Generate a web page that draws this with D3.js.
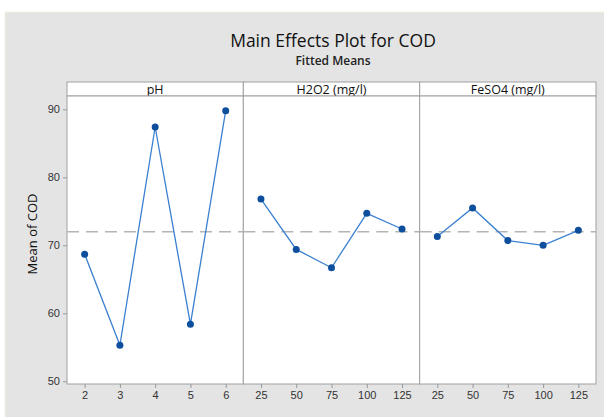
<!DOCTYPE html>
<html>
<head>
<meta charset="utf-8">
<script src="https://cdn.jsdelivr.net/npm/d3@7"></script>
<style>
  body { margin: 0; background: #fff; }
  svg { font-family: "Open Sans", "Noto Sans", sans-serif; }
</style>
</head>
<body>
<svg id="chart" width="604" height="417"></svg>
<script>
// data
var factors = ["pH", "H2O2 (mg/l)", "FeSO4 (mg/l)"]
var phLevels = ["2", "3", "4", "5", "6"]
var phMeans = [68.7, 55.3, 87.4, 58.4, 89.8]
var h2o2Levels = ["25", "50", "75", "100", "125"]
var h2o2Means = [76.8, 69.4, 66.7, 74.7, 72.4]
var feso4Levels = ["25", "50", "75", "100", "125"]
var feso4Means = [71.3, 75.5, 70.7, 70.0, 72.2]
var grandMean = 72.0
var yTicks = [50, 60, 70, 80, 90]

var panels = [
  {name: factors[0], levels: phLevels, means: phMeans},
  {name: factors[1], levels: h2o2Levels, means: h2o2Means},
  {name: factors[2], levels: feso4Levels, means: feso4Means}
]

var svg = d3.select("#chart")
var pLeft = 67, pRight = 596, pTop = 96, pBottom = 384, stripH = 14

// gray frame
svg.append("rect")
  .attr("x", 5.5).attr("y", 12.5)
  .attr("width", 604).attr("height", 410)
  .attr("fill", "#e4e4e4")
  .attr("stroke", "#ebe8dc")
  .attr("stroke-width", 1.5)

svg.append("text")
  .attr("x", 333).attr("y", 47)
  .attr("text-anchor", "middle")
  .attr("font-size", 17.5)
  .attr("fill", "#111")
  .text("Main Effects Plot for COD")
svg.append("text")
  .attr("x", 333).attr("y", 65)
  .attr("text-anchor", "middle")
  .attr("font-size", 12)
  .attr("font-weight", 600)
  .attr("fill", "#222")
  .text("Fitted Means")

var y = d3.scaleLinear().domain([49.6, 91.96]).range([pBottom, pTop])
var panelX = d3.scaleBand().domain(factors).range([pLeft, pRight])

// y axis
var yAxis = svg.append("g")
  .attr("transform", "translate(" + pLeft + ",0)")
  .call(d3.axisLeft(y).tickValues(yTicks).tickSize(4).tickPadding(3))
yAxis.select(".domain").remove()
yAxis.selectAll("line").attr("stroke", "#999")
yAxis.selectAll("text").attr("font-size", 11).attr("fill", "#333")

svg.append("text")
  .attr("transform", "translate(37,234) rotate(-90)")
  .attr("text-anchor", "middle")
  .attr("font-size", 13)
  .attr("fill", "#111")
  .text("Mean of COD")

panels.forEach(function(p) {
  var x0 = panelX(p.name), w = panelX.bandwidth()
  var g = svg.append("g")
  var x = d3.scalePoint().domain(p.levels).range([x0, x0 + w]).padding(0.5)

  // strip
  g.append("rect")
    .attr("x", x0).attr("y", pTop - stripH)
    .attr("width", w).attr("height", stripH)
    .attr("fill", "#fff").attr("stroke", "#a0a0a0")
  g.append("text")
    .attr("x", x0 + w / 2).attr("y", pTop - 2.5)
    .attr("text-anchor", "middle")
    .attr("font-size", 12.5)
    .attr("fill", "#111")
    .text(p.name)

  // plot area
  g.append("rect")
    .attr("x", x0).attr("y", pTop)
    .attr("width", w).attr("height", pBottom - pTop)
    .attr("fill", "#fff").attr("stroke", "#a0a0a0")

  var xAxis = g.append("g")
    .attr("transform", "translate(0," + pBottom + ")")
    .call(d3.axisBottom(x).tickSize(4).tickPadding(3))
  xAxis.select(".domain").remove()
  xAxis.selectAll("line").attr("stroke", "#999")
  xAxis.selectAll("text").attr("font-size", 11).attr("fill", "#333")

  // grand mean reference
  g.append("line")
    .attr("x1", x0).attr("x2", x0 + w)
    .attr("y1", y(grandMean)).attr("y2", y(grandMean))
    .attr("stroke", "#b4b4b4").attr("stroke-width", 1.6)
    .attr("stroke-dasharray", "12,7")

  var pts = p.levels.map(function(l, i) { return [l, p.means[i]] })
  g.append("path")
    .datum(pts)
    .attr("fill", "none")
    .attr("stroke", "#3b80d0")
    .attr("stroke-width", 1.3)
    .attr("d", d3.line().x(d => x(d[0])).y(d => y(d[1])))
  g.selectAll("circle").data(pts).enter().append("circle")
    .attr("cx", d => x(d[0])).attr("cy", d => y(d[1]))
    .attr("r", 3.5)
    .attr("fill", "#0d4f9c")
})
</script>
</body>
</html>
